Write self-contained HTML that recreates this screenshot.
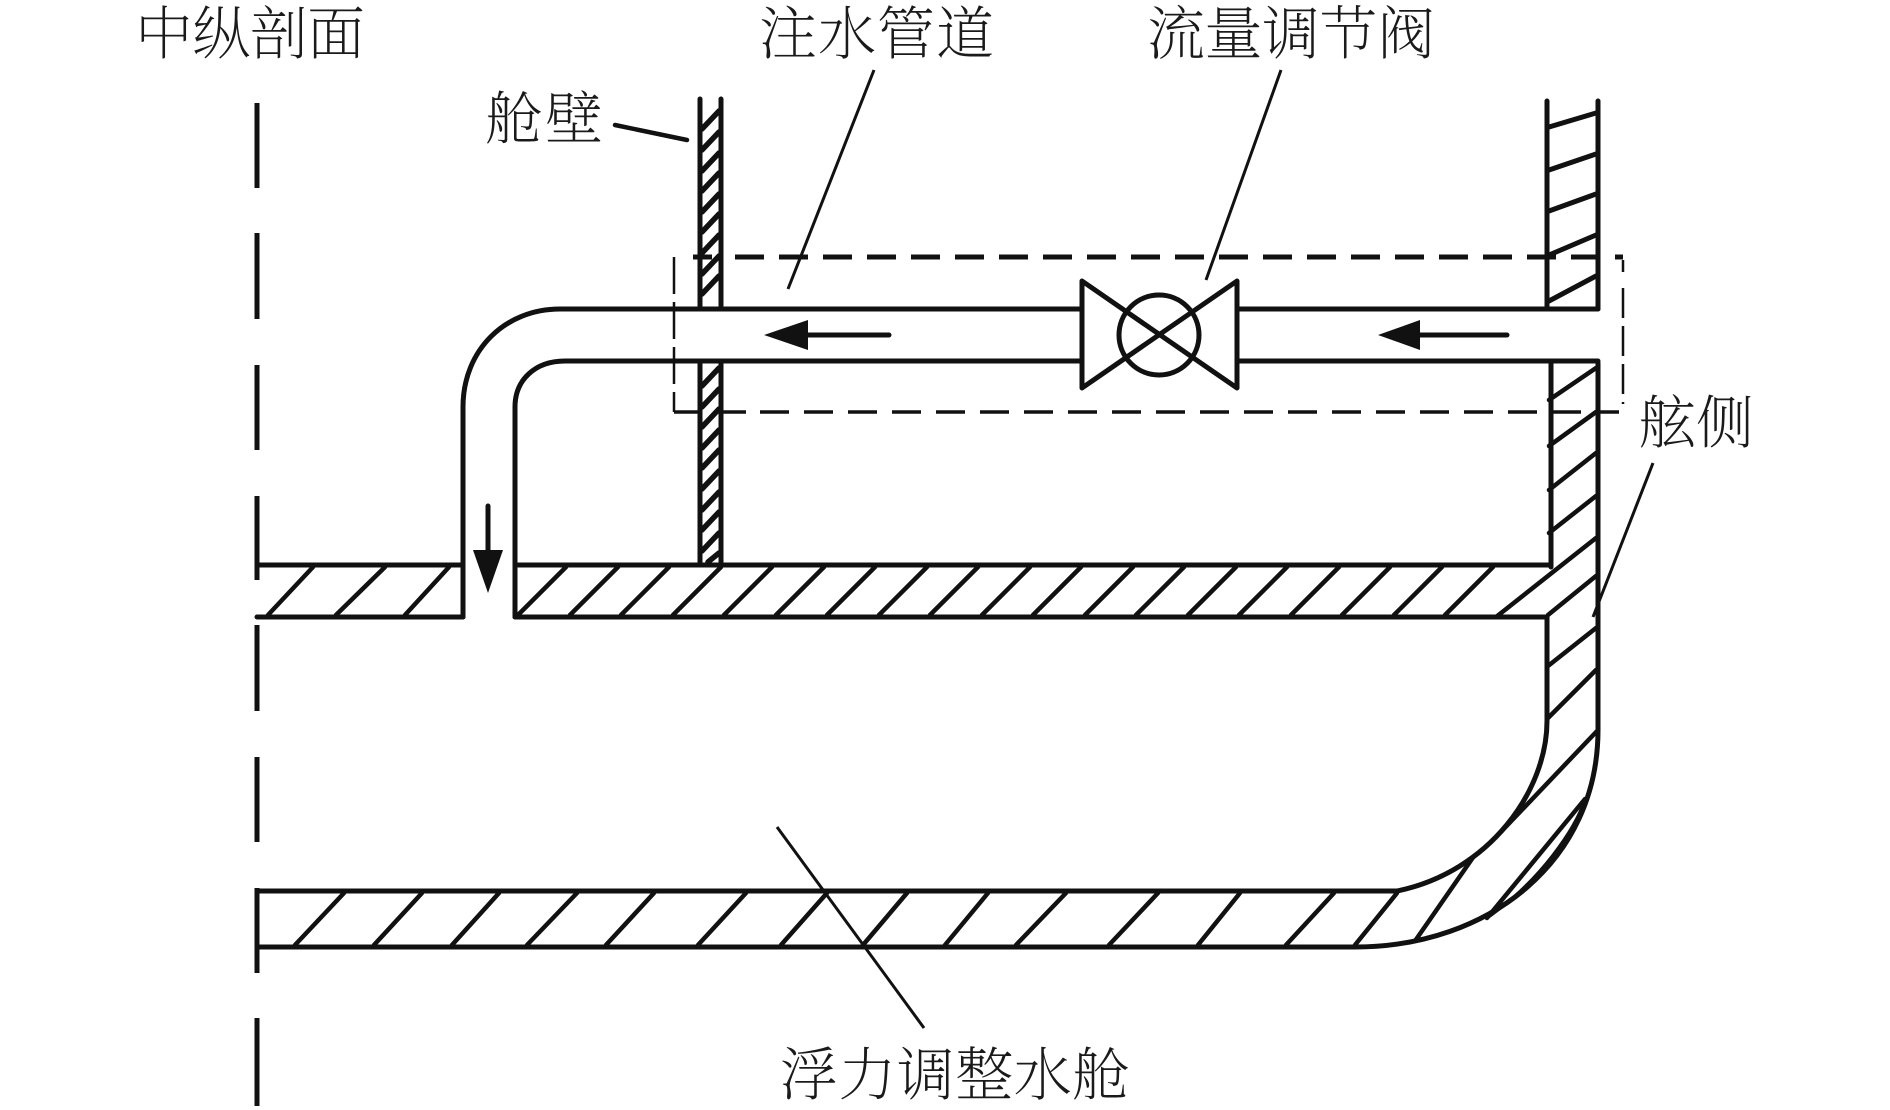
<!DOCTYPE html>
<html>
<head>
<meta charset="utf-8">
<style>
html,body{margin:0;padding:0;background:#fff;}
svg{display:block;}
text{font-family:"Liberation Serif","Noto Serif CJK SC",serif;font-size:58px;fill:#1a1a1a;font-weight:200;}
.m{stroke:#111;stroke-width:5;fill:none;stroke-linecap:round;stroke-linejoin:round;}
.h{stroke:#111;stroke-width:4.5;fill:none;stroke-linecap:round;}
.l{stroke:#111;stroke-width:3;fill:none;}
</style>
</head>
<body>
<svg width="1890" height="1110" viewBox="0 0 1890 1110" xmlns="http://www.w3.org/2000/svg">
<rect width="1890" height="1110" fill="#fff"/>

<!-- centerline -->
<path class="m" style="stroke-linecap:butt" d="M257 103V188M257 233V319M257 365V450M257 496V580M257 625V711M257 757V842M257 888V973M257 1018V1106"/>

<!-- dashed box -->
<path d="M693 257H712" fill="none" stroke="#111" stroke-width="5"/>
<path d="M735 257H1623" fill="none" stroke="#111" stroke-width="5" stroke-dasharray="29 15"/>
<path d="M674 412H699M723 412H746" fill="none" stroke="#111" stroke-width="3.5"/>
<path d="M760 412H1619" fill="none" stroke="#111" stroke-width="3.5" stroke-dasharray="29 15"/>
<path d="M674 257V412" fill="none" stroke="#111" stroke-width="2.5" stroke-dasharray="37 8"/>
<path d="M1623 260V404" fill="none" stroke="#111" stroke-width="2.5" stroke-dasharray="12 16 30 8 30 8 30 8"/>

<!-- bulkhead -->
<path class="m" d="M700 99V306M721 99V306M700 363V562M721 363V562"/>
<path class="h" style="stroke-width:5.5" d="M702 129L719 111M702 150L719 132M702 171L719 153M702 191L719 173M702 212L719 194M702 232L719 214M702 253L719 235M702 274L719 256M702 294L719 276M702 386L719 368M702 407L719 389M702 427L719 409M702 448L719 430M702 468L719 450M702 489L719 471M702 510L719 492M702 530L719 512M702 551L719 533M708 562L719 553"/>

<!-- right hull upper -->
<path class="m" d="M1547 101V309M1598 101V309"/>
<path class="h" style="stroke-width:5" d="M1549 127L1596 113M1549 170L1596 154M1549 211L1596 194M1549 255L1596 235M1549 301L1596 276"/>

<!-- pipe -->
<path class="m" d="M1238 309H1598M1238 361H1598M1080 309H560C505 309 463 350 463 407V617M1080 361H565C535 361 515 380 515 407V617"/>

<!-- valve -->
<path class="m" d="M1082 281L1237 388V281L1082 388Z"/>
<circle class="m" cx="1159" cy="335" r="40"/>

<!-- arrows -->
<path class="m" d="M808 335H889"/>
<path d="M764 335L808 320V350Z" fill="#111"/>
<path class="m" d="M1420 335H1507"/>
<path d="M1378 335L1420 320V350Z" fill="#111"/>
<path class="m" d="M488 506V552"/>
<path d="M473 550H503L488 593Z" fill="#111"/>

<!-- deck -->
<path class="m" d="M257 565H463V617H257M518 565H1551M515 617H1547"/>
<path class="h" d="M268 615L313 567M336 615L385 567M405 615L449 567"/>
<path class="h" d="M518 615L566 567M570 615L618 567M621 615L669 567M673 615L721 567M724 615L772 567M776 615L824 567M827 615L875 567M879 615L927 567M930 615L978 567M982 615L1030 567M1033 615L1081 567M1085 615L1133 567M1136 615L1184 567M1188 615L1236 567M1239 615L1287 567M1291 615L1339 567M1342 615L1390 567M1394 615L1442 567M1445 615L1493 567"/>

<!-- hull -->
<path class="m" d="M1551 363V567M1598 363V730C1598 860 1490 947 1355 947H257M1547 617V721C1547 790 1490 872 1397 891H257V947"/>
<path class="h" d="M1596 368L1549 400M1596 412L1549 446M1596 453L1549 490M1596 496L1549 533M1596 538L1496 617M1596 576L1548 615M1596 628L1548 666M1596 670L1548 718M1598 730L1498 835"/>
<path class="h" d="M1415 941L1474 856M1487 918L1585 799"/>
<path class="m" style="stroke-width:3" d="M1490 916C1540 880 1575 830 1585 799"/>

<!-- bottom hatch -->
<path class="h" d="M295 945L344 893M374 945L422 893M452 945L499 893M527 945L577 893M606 945L654 893M698 945L746 893M781 945L827 893M863 945L907 893M945 945L988 893M1016 945L1066 893M1109 945L1158 893M1198 945L1240 893M1286 945L1334 893M1355 945L1397 893"/>

<!-- leaders -->
<path class="h" d="M615 125L687 140"/>
<path class="l" d="M874 70L788 289"/>
<path class="l" d="M1281 70L1206 280"/>
<path class="l" d="M1653 463L1593 617"/>
<path class="l" d="M777 827L924 1028"/>

<!-- labels -->
<text x="135" y="54" textLength="230" lengthAdjust="spacing">中纵剖面</text>
<text x="759" y="54" textLength="235" lengthAdjust="spacing">注水管道</text>
<text x="1147" y="54" textLength="288" lengthAdjust="spacing">流量调节阀</text>
<text x="485" y="139" textLength="118" lengthAdjust="spacing">舱壁</text>
<text x="1638" y="443" textLength="116" lengthAdjust="spacing">舷侧</text>
<text x="780" y="1095" textLength="350" lengthAdjust="spacing">浮力调整水舱</text>
</svg>
</body>
</html>
